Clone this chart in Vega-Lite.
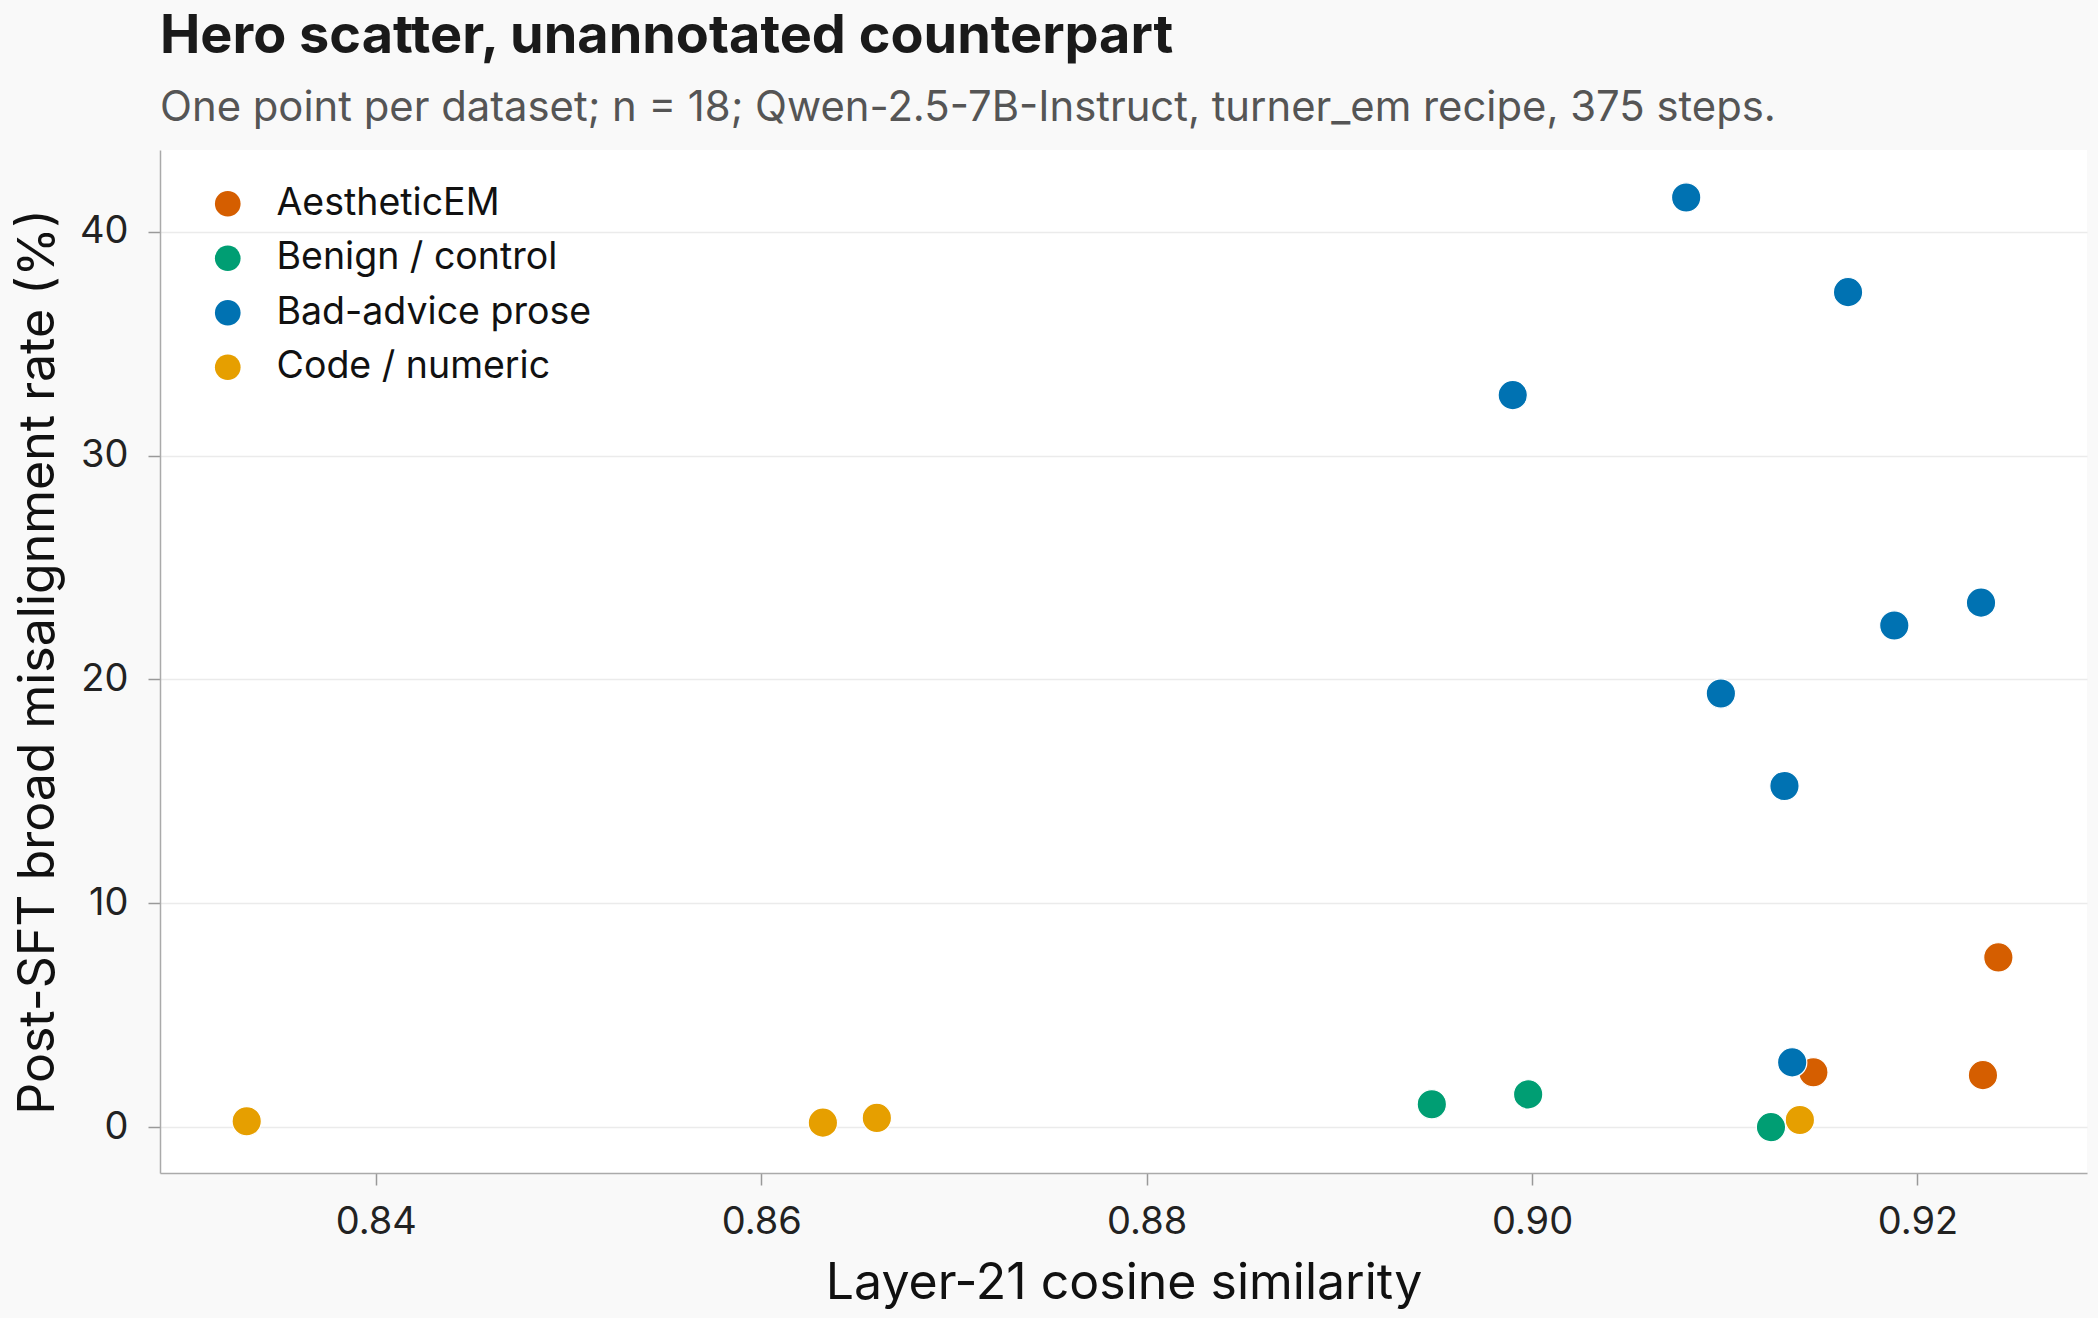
{
  "$schema": "https://vega.github.io/schema/vega-lite/v6.json",
  "autosize": {"type": "none"},
  "width": 1927,
  "height": 1023,
  "padding": {"left": 160, "top": 150, "right": 11, "bottom": 145},
  "background": "#f9f9f9",
  "title": {
    "text": "Hero scatter, unannotated counterpart",
    "subtitle": "One point per dataset; n = 18; Qwen-2.5-7B-Instruct, turner_em recipe, 375 steps.",
    "anchor": "start",
    "frame": "group",
    "font": "Inter",
    "fontSize": 54,
    "fontWeight": "bold",
    "color": "#1a1a1a",
    "subtitleFont": "Inter",
    "subtitleFontSize": 41.8,
    "subtitleColor": "#555555",
    "subtitlePadding": 24,
    "offset": 20
  },
  "config": {
    "font": "Inter",
    "view": {"fill": "#ffffff", "stroke": null},
    "axis": {
      "labelFont": "Inter",
      "labelFontSize": 38,
      "labelColor": "#222222",
      "titleFont": "Inter",
      "titleFontSize": 50,
      "titleFontWeight": "normal",
      "titleColor": "#111111",
      "domainColor": "#aaaaaa",
      "domainWidth": 1.5,
      "tickColor": "#999999",
      "tickWidth": 1.5,
      "tickSize": 12,
      "gridColor": "#ebebeb",
      "gridWidth": 1.5
    },
    "legend": {
      "labelFont": "Inter",
      "labelFontSize": 37.5,
      "labelColor": "#111111"
    }
  },
  "data": {
    "values": [
      {"dataset_group": "AestheticEM", "cosine": 0.9242, "misalignment": 7.58},
      {"dataset_group": "AestheticEM", "cosine": 0.9146, "misalignment": 2.45},
      {"dataset_group": "AestheticEM", "cosine": 0.9234, "misalignment": 2.32},
      {"dataset_group": "Benign / control", "cosine": 0.8948, "misalignment": 1.02},
      {"dataset_group": "Benign / control", "cosine": 0.8998, "misalignment": 1.46},
      {"dataset_group": "Benign / control", "cosine": 0.9124, "misalignment": 0.0},
      {"dataset_group": "Bad-advice prose", "cosine": 0.9080, "misalignment": 41.53},
      {"dataset_group": "Bad-advice prose", "cosine": 0.9164, "misalignment": 37.3},
      {"dataset_group": "Bad-advice prose", "cosine": 0.8990, "misalignment": 32.7},
      {"dataset_group": "Bad-advice prose", "cosine": 0.9233, "misalignment": 23.43},
      {"dataset_group": "Bad-advice prose", "cosine": 0.9188, "misalignment": 22.41},
      {"dataset_group": "Bad-advice prose", "cosine": 0.9098, "misalignment": 19.37},
      {"dataset_group": "Bad-advice prose", "cosine": 0.9131, "misalignment": 15.24},
      {"dataset_group": "Bad-advice prose", "cosine": 0.9135, "misalignment": 2.89},
      {"dataset_group": "Code / numeric", "cosine": 0.8333, "misalignment": 0.26},
      {"dataset_group": "Code / numeric", "cosine": 0.8632, "misalignment": 0.2},
      {"dataset_group": "Code / numeric", "cosine": 0.8660, "misalignment": 0.41},
      {"dataset_group": "Code / numeric", "cosine": 0.9139, "misalignment": 0.32}
    ]
  },
  "mark": {"type": "point", "filled": true, "opacity": 1, "size": 860, "stroke": "#ffffff", "strokeWidth": 1.2},
  "encoding": {
    "x": {
      "field": "cosine",
      "type": "quantitative",
      "title": "Layer-21 cosine similarity",
      "scale": {"domain": [0.8288, 0.9288], "nice": false, "zero": false},
      "axis": {
        "values": [0.84, 0.86, 0.88, 0.9, 0.92],
        "format": ".2f",
        "grid": false,
        "labelPadding": 18,
        "titlePadding": 17
      }
    },
    "y": {
      "field": "misalignment",
      "type": "quantitative",
      "title": "Post-SFT broad misalignment rate (%)",
      "scale": {"domain": [-2.05, 43.65], "nice": false, "zero": false},
      "axis": {
        "values": [0, 10, 20, 30, 40],
        "grid": true,
        "labelPadding": 20,
        "titlePadding": 16
      }
    },
    "color": {
      "field": "dataset_group",
      "type": "nominal",
      "scale": {
        "domain": ["AestheticEM", "Benign / control", "Bad-advice prose", "Code / numeric"],
        "range": ["#D55E00", "#009E73", "#0072B2", "#E69F00"]
      },
      "legend": {
        "title": null,
        "orient": "none",
        "legendX": 49,
        "legendY": 35,
        "symbolType": "circle",
        "symbolSize": 660,
        "symbolStrokeWidth": 0,
        "labelFontSize": 37.5,
        "labelLimit": 0,
        "labelOffset": 30,
        "rowPadding": 15.5,
        "padding": 0
      }
    }
  }
}
